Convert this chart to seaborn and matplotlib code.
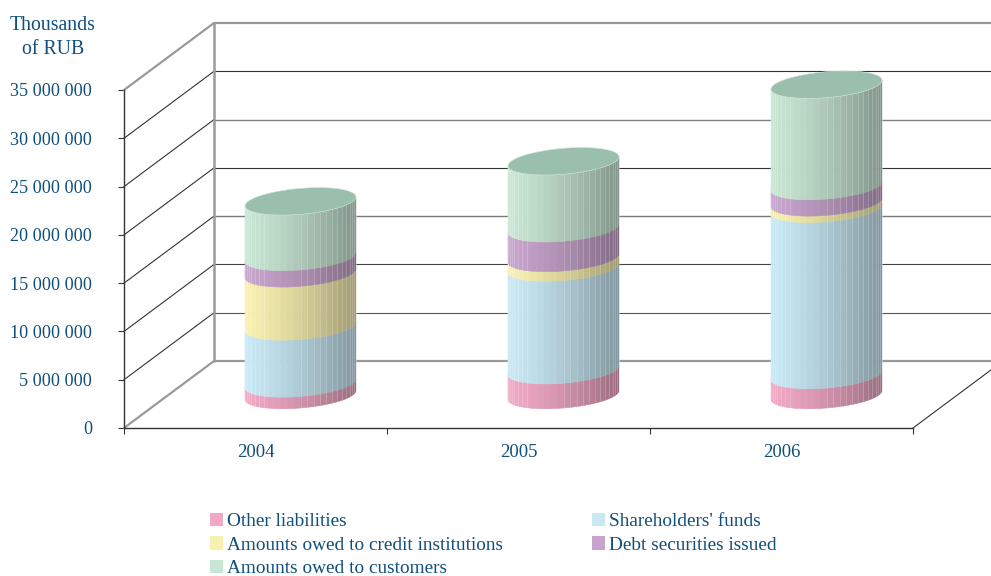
import numpy as np
import matplotlib
matplotlib.use("Agg")
import matplotlib.pyplot as plt
from matplotlib.patches import Patch
import seaborn as sns

# values, thousands of RUB
years = ["2004", "2005", "2006"]
other_liab = [1200000, 2570000, 2070000]
shareholders = [5900000, 10630000, 17210000]
credit_inst = [5500000, 990000, 670000]
debt_sec = [1700000, 3080000, 1690000]
customers = [5750000, 6930000, 10490000]

series_names = ["Other liabilities", "Shareholders' funds", "Amounts owed to credit institutions",
                "Debt securities issued", "Amounts owed to customers"]
series_vals = [other_liab, shareholders, credit_inst, debt_sec, customers]
series_cols = ["#f0a8c4", "#c8e8f4", "#f8f0b0", "#c8a4cc", "#c8e6d4"]
y_ticks = [0, 5000000, 10000000, 15000000, 20000000, 25000000, 30000000, 35000000]

TXT = "#0f4f7c"
W, H = 991, 576

sns.set_style("white")
plt.rcParams["font.family"] = ["Liberation Serif", "DejaVu Serif"]

fig = plt.figure(figsize=(W / 100, H / 100), dpi=100)
ax = fig.add_axes([124 / W, 1 - 428 / H, 789 / W, 338 / H])

# stacked bars give the positions, the cylinders get drawn on top of them
bottoms = np.zeros(3)
bars_by_series = []
for name, vals, col in zip(series_names, series_vals, series_cols):
    n_before = len(ax.patches)
    sns.barplot(x=years, y=vals, bottom=bottoms, color=col, width=0.422, errorbar=None, ax=ax)
    bars_by_series.append(ax.patches[n_before:])
    bottoms = bottoms + np.array(vals)

ax.set_xlim(-0.5, 2.5)
ax.set_ylim(0, 35000000)

px_x = 789 / 3.0  # pixels per category
px_y = 338 / 35000000.0  # pixels per RUB
back_x = 90 / px_x
back_y = 67 / px_y
mid_x = 45 / px_x
mid_y = 33 / px_y

# walls
grid_cols = ["#9a9a9a", "#333333", "#808080", "#333333", "#7a7a7a", "#444444", "#555555", "#9a9a9a"][::-1]
grid_lws = [1.6, 0.8, 1.0, 0.8, 1.0, 0.8, 0.8, 1.6][::-1]
for v, c, lw in zip(y_ticks, grid_cols, grid_lws):
    ax.plot([-0.5 + back_x, 2.5 + back_x], [v + back_y, v + back_y], color=c, lw=lw, clip_on=False, zorder=1)
    is_edge = v in (y_ticks[0], y_ticks[-1])
    ax.plot([-0.5, -0.5 + back_x], [v, v + back_y], color="#9a9a9a" if is_edge else "#333333",
            lw=1.6 if is_edge else 0.8, clip_on=False, zorder=1)
ax.plot([-0.5 + back_x] * 2, [back_y, 35000000 + back_y], color="#9a9a9a", lw=1.8, clip_on=False, zorder=1.1)
ax.plot([2.5, 2.5 + back_x], [0, back_y], color="#333333", lw=0.8, clip_on=False, zorder=1)


def shade(col, f):
    rgb = np.array(matplotlib.colors.to_rgb(col))
    return tuple(rgb * f)


# cylinders, narrow strips towards the edges like the facets of the original
ell_b = 13.0 / px_y
ell_s = 4.5 / px_y
angles = np.linspace(np.pi, 0, 27)
z = 3
for bars, col in zip(bars_by_series, series_cols):
    for bar in bars:
        bar.set_visible(False)
        a = bar.get_width() / 2
        cx = bar.get_x() + a + mid_x
        low = bar.get_y() + mid_y
        high = low + bar.get_height()
        for t0, t1 in zip(angles[:-1], angles[1:]):
            x0, x1 = cx + a * np.cos(t0), cx + a * np.cos(t1)
            lo0 = low + ell_s * np.cos(t0) - ell_b * np.sin(t0)
            lo1 = low + ell_s * np.cos(t1) - ell_b * np.sin(t1)
            hi0 = high + ell_s * np.cos(t0) - ell_b * np.sin(t0)
            hi1 = high + ell_s * np.cos(t1) - ell_b * np.sin(t1)
            pos = (np.cos((t0 + t1) / 2) + 1) / 2
            c = shade(col, 1 - 0.36 * pos ** 1.4)
            ax.fill([x0, x1, x1, x0], [lo0, lo1, hi1, hi0], facecolor=c, edgecolor=c, lw=0.4,
                    clip_on=False, zorder=z)
            # light seam, the stretch left of the middle has none
            if not 0.18 < pos < 0.45:
                ax.plot([x1, x1], [lo1, hi1], color="white", alpha=0.2, lw=0.7, clip_on=False, zorder=z + 0.5)

# lids on the top segment
tt = np.linspace(0, 2 * np.pi, 120)
for bar in bars_by_series[-1]:
    a = bar.get_width() / 2
    cx = bar.get_x() + a + mid_x
    top = bar.get_y() + bar.get_height() + mid_y
    ax.fill(cx + a * np.cos(tt), top + ell_s * np.cos(tt) + ell_b * np.sin(tt), facecolor="#9bbfad",
            edgecolor="#d5e6dc", lw=0.4, clip_on=False, zorder=z + 1)

# axes
sns.despine(ax=ax, top=True, right=True)
for side in ["left", "bottom"]:
    ax.spines[side].set_color("#333333")
    ax.spines[side].set_linewidth(1.0)
    ax.spines[side].set_zorder(5)

ax.set_yticks(y_ticks)
ax.set_yticklabels([f"{v:,}".replace(",", " ") for v in y_ticks])
ax.tick_params(axis="y", direction="out", length=4.5, width=0.8, color="#333333", pad=18.5,
               labelsize=13.1, labelcolor=TXT, left=True)

ax.set_xticks([-0.5, 0.5, 1.5, 2.5])
ax.set_xticklabels([])
ax.set_xticks([0, 1, 2], minor=True)
ax.set_xticklabels(years, minor=True)
ax.tick_params(axis="x", which="major", direction="out", length=4.5, width=0.8, color="#333333", bottom=True)
ax.tick_params(axis="x", which="minor", length=0, pad=11.5, labelsize=13.5, labelcolor=TXT)
ax.set_xlabel("")
ax.set_ylabel("")

fig.text(53 / W, 1 - 37.5 / H, "Thousands\nof RUB", ha="center", va="center", ma="center",
         fontsize=14.2, color=TXT, linespacing=1.35)

# legend, first column runs down three rows
order = [0, 2, 4, 1, 3]
handles = [Patch(facecolor=series_cols[i], edgecolor="none") for i in order]
labels = [series_names[i] for i in order]
leg = fig.legend(handles, labels, ncol=2, loc="upper left", bbox_to_anchor=(210 / W, 1 - 512.5 / H),
                 frameon=False, fontsize=13.9, labelcolor=TXT, handlelength=0.68, handleheight=0.68,
                 handletextpad=0.2, labelspacing=0.33, columnspacing=4.6, borderpad=0, borderaxespad=0)

fig.savefig("out.png", dpi=100, facecolor="white")
